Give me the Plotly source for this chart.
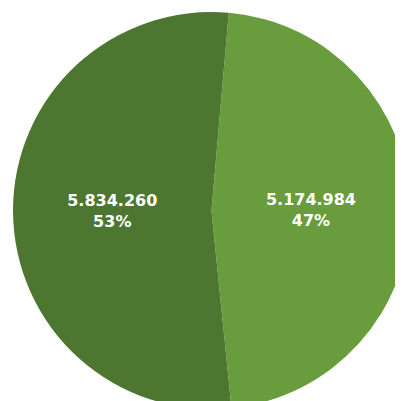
import plotly.graph_objects as go

labels = ["Group B", "Group A"]
values = [5174984, 5834260]
value_text = ["5.174.984", "5.834.260"]
pct_text = ["47%", "53%"]
colors = ["#699c3d", "#4d7731"]

fig = go.Figure(go.Pie(
    labels=labels,
    values=values,
    text=[f"{v}<br>{p}" for v, p in zip(value_text, pct_text)],
    textinfo="text",
    textposition="inside",
    insidetextorientation="horizontal",
    textfont=dict(family="DejaVu Sans", size=16, color="white", weight="bold"),
    marker=dict(colors=colors, line=dict(width=0)),
    sort=False,
    direction="clockwise",
    rotation=5,
    hoverinfo="none",
))
fig.update_layout(
    width=403, height=401,
    margin=dict(l=4, r=0, t=4, b=0),
    showlegend=False,
    paper_bgcolor="white",
    uniformtext=dict(minsize=16, mode="show"),
)
fig.write_html("out.html")
